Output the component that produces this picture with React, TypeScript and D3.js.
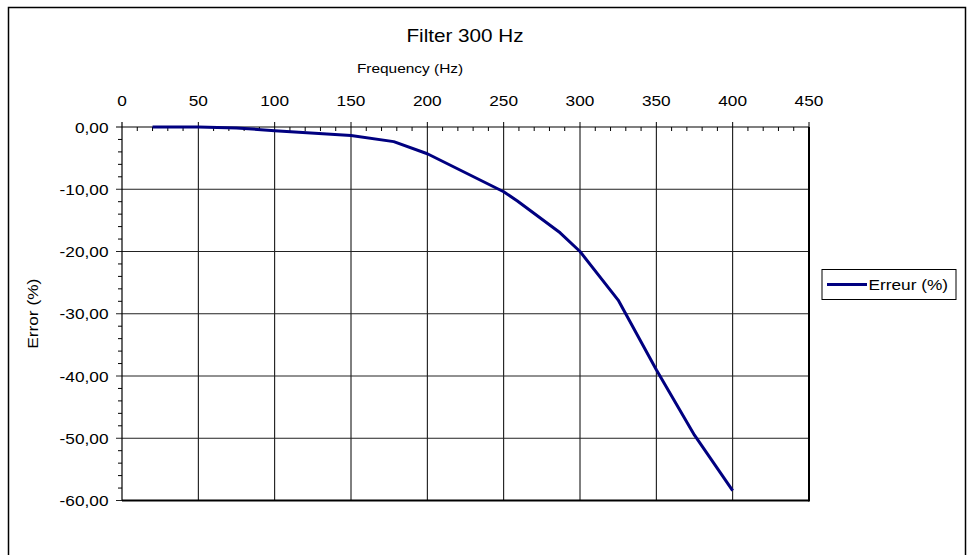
import React from "react";
import * as d3 from "d3";

const freqs = [20, 50, 75, 100, 150, 178, 200, 250, 259, 287, 300, 325, 350, 375, 400];
const errors = [0, 0, -0.15, -0.6, -1.35, -2.35, -4.3, -10.4, -11.9, -17.0, -20.0, -27.8, -39.0, -49.5, -58.4];
const xTicks = [0, 50, 100, 150, 200, 250, 300, 350, 400, 450];
const yTicks = [0, -10, -20, -30, -40, -50, -60];
const title = "Filter 300 Hz";
const xTitle = "Frequency (Hz)";
const yTitle = "Error (%)";
const seriesName = "Erreur (%)";

const SX = 1.15;

function T({ x, y, size, anchor = "start", rotate = 0, children }: any) {
  return (
    <g transform={`translate(${x},${y}) rotate(${rotate}) scale(${SX},1)`}>
      <text x={0} y={0} textAnchor={anchor} fontSize={size}>{children}</text>
    </g>
  );
}

export default function App() {
  const W = 968, H = 555;
  const L = 122, R = 809, Tp = 127, B = 500.5;
  const x = d3.scaleLinear().domain([0, 450]).range([L, R]);
  const y = d3.scaleLinear().domain([0, -60]).range([Tp, B]);
  const pts = freqs.map((f, i) => [f, errors[i]] as [number, number]);
  const line = d3.line<[number, number]>().x(d => x(d[0])).y(d => y(d[1]));
  const xMinor = d3.range(0, 451, 10).filter(v => v % 50 !== 0);
  const yMinor = d3.range(0, -61, -2).filter(v => v % 10 !== 0);
  const fmt = (v: number) => d3.format(".2f")(v).replace("−", "-").replace(".", ",");
  const font = "'Liberation Sans', Arial, sans-serif";
  return (
    <svg width={W} height={H} style={{ position: "absolute", left: 0, top: 0 }} fontFamily={font}>
      <rect x={0} y={0} width={W} height={H} fill="#fff" />
      <rect x={8.5} y={7.5} width={957} height={700} fill="none" stroke="#000" strokeWidth={1.5} />
      <T x={465} y={42} size={18} anchor="middle">{title}</T>
      <T x={410} y={73} size={13.4} anchor="middle">{xTitle}</T>
      {xTicks.map(v => (
        <T key={"xl" + v} x={x(v)} y={106} size={15} anchor="middle">{v}</T>
      ))}
      {yTicks.map(v => (
        <T key={"yl" + v} x={108.5} y={y(v) + 5.5} size={15} anchor="end">{fmt(v)}</T>
      ))}
      <T x={38} y={(Tp + B) / 2} size={15} anchor="middle" rotate={-90}>{yTitle}</T>
      {/* grid */}
      {xTicks.slice(1).map(v => (
        <line key={"gx" + v} x1={x(v)} x2={x(v)} y1={Tp - 5} y2={B} stroke="#000" strokeWidth={1} />
      ))}
      {yTicks.slice(1).map(v => (
        <line key={"gy" + v} x1={L - 6} x2={R} y1={y(v)} y2={y(v)} stroke="#222" strokeWidth={1} />
      ))}
      {xMinor.map(v => (
        <line key={"mx" + v} x1={x(v)} x2={x(v)} y1={Tp} y2={Tp + 4} stroke="#000" strokeWidth={1} />
      ))}
      {yMinor.map(v => (
        <line key={"my" + v} x1={L - 4} x2={L} y1={y(v)} y2={y(v)} stroke="#000" strokeWidth={1} />
      ))}
      {/* axes */}
      <line x1={L - 6} x2={R} y1={Tp} y2={Tp} stroke="#000" strokeWidth={1.2} />
      <line x1={L} x2={L} y1={Tp - 5} y2={B} stroke="#000" strokeWidth={1.2} />
      <line x1={L} x2={R} y1={B} y2={B} stroke="#000" strokeWidth={2} />
      <line x1={R} x2={R} y1={Tp} y2={B + 1} stroke="#000" strokeWidth={2} />
      <path d={line(pts) || ""} fill="none" stroke="#000080" strokeWidth={3} strokeLinejoin="round" />
      {/* legend */}
      <rect x={822} y={269.5} width={134} height={30} fill="#fff" stroke="#000" strokeWidth={1} />
      <line x1={827} x2={867} y1={284.5} y2={284.5} stroke="#000080" strokeWidth={3} />
      <T x={868.5} y={290} size={15}>{seriesName}</T>
    </svg>
  );
}
